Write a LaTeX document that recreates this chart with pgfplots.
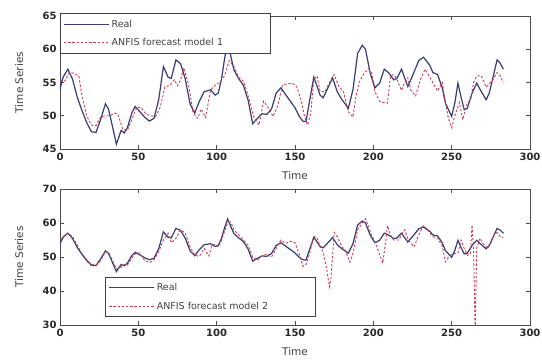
\documentclass[border=0pt]{standalone}
\usepackage{fontspec}
\setmainfont{DejaVu Sans}
\usepackage{pgfplots}
\pgfplotsset{compat=1.18}
\usepackage{pgfplotstable}

\definecolor{realc}{RGB}{55,60,115}
\definecolor{fc}{RGB}{205,60,85}

\pgfplotstableread{
t v
0 54.0
2 55.8
5 57.0
8 55.5
11 52.8
14 50.8
17 49.0
20 47.6
23 47.5
26 49.5
29 51.8
31 51.0
33 48.9
36 45.7
39 47.8
41 47.4
43 48.2
46 50.5
48 51.4
51 50.6
54 49.8
57 49.2
60 49.6
63 52.4
66 57.4
69 55.8
71 55.6
74 58.4
77 57.8
80 55.5
83 51.8
86 50.4
89 52.2
92 53.6
96 53.9
99 53.1
101 53.4
103 55.4
105 58.5
107 61.2
109 59.0
111 56.9
114 55.6
117 54.6
120 52.4
123 48.8
126 49.6
129 50.3
132 50.2
135 51.0
138 53.4
141 54.2
144 53.2
147 52.2
150 51.2
153 49.8
155 49.2
157 49.1
159 51.8
162 55.8
164 54.5
166 53.1
168 52.7
171 54.2
174 55.7
177 53.6
180 52.4
182 51.8
184 51.1
187 53.9
190 59.4
193 60.6
195 60.0
198 56.4
201 54.2
204 54.9
207 57.0
210 56.4
213 55.4
215 55.6
218 57.0
222 54.4
225 56.0
229 58.3
232 58.8
236 57.6
238 56.5
241 56.2
244 54.2
246 51.9
248 50.9
250 49.9
252 51.9
254 54.9
256 52.8
258 50.9
260 51.1
263 53.4
266 54.9
269 53.6
272 52.4
274 53.4
277 56.4
279 58.4
281 57.9
283 57.0
}\realdata

\pgfplotstableread{
t v
0 55.4
3 55.2
6 56.5
9 56.4
12 56.0
14 53.0
17 50.0
20 48.6
23 48.5
26 49.8
29 50.0
32 50.0
35 50.4
37 50.2
40 48.0
43 47.8
46 49.5
49 51.3
52 51.2
55 50.2
58 50.0
61 49.9
64 51.3
67 54.4
70 54.5
73 55.4
75 54.5
77 55.4
79 57.2
82 54.8
85 50.4
88 49.6
90 51.0
93 49.7
96 53.8
99 54.6
102 55.0
105 56.0
108 58.3
111 57.4
114 55.8
117 55.2
119 53.9
122 51.3
124 49.6
127 48.6
130 52.2
133 51.2
136 49.9
139 51.5
142 54.6
145 54.8
148 54.9
151 54.4
154 52.3
156 50.0
158 48.6
160 50.3
162 55.4
164 56.0
166 53.7
169 53.6
172 55.0
175 56.2
178 54.4
181 53.6
184 50.6
187 49.8
189 53.0
191 55.0
194 56.4
197 57.0
199 56.5
201 53.6
204 52.2
206 52.0
209 51.9
211 56.0
213 56.2
215 55.5
218 53.8
220 55.0
222 55.7
224 53.8
227 53.0
230 55.4
233 57.0
235 56.2
238 55.0
241 53.7
244 55.0
246 52.0
248 49.5
250 48.2
252 50.0
255 52.0
257 49.4
260 52.0
262 52.3
264 55.0
266 56.0
269 56.0
272 54.3
276 55.3
279 56.5
281 56.0
283 55.0
}\fonedata

\pgfplotstableread{
t v
0 55.0
2 56.0
5 57.0
8 56.0
11 53.5
14 51.0
17 49.2
20 47.8
23 47.6
26 49.0
29 51.5
31 51.4
33 49.5
36 46.5
39 47.0
41 47.8
43 47.6
46 49.8
48 51.0
51 51.2
54 49.0
57 48.3
60 49.2
63 51.5
66 55.0
69 57.0
71 54.2
74 55.5
77 58.0
80 57.0
83 53.0
86 50.5
89 50.2
92 52.5
95 50.3
97 53.5
99 53.8
101 53.0
103 54.8
105 57.5
107 60.0
109 60.3
111 58.0
114 56.5
117 55.0
120 53.5
123 50.0
126 49.0
129 50.4
132 50.8
135 50.0
138 52.5
141 55.0
144 54.0
147 54.6
150 54.2
153 50.5
155 47.2
157 47.8
159 50.5
162 56.0
164 55.8
166 53.0
168 51.5
170 47.0
172 41.2
173 44.0
175 57.2
177 56.0
180 53.0
182 52.0
185 48.5
187 51.0
190 58.0
193 60.0
195 61.2
197 59.0
199 56.2
201 54.6
203 52.0
206 48.2
208 55.0
209 59.2
211 56.5
213 55.0
216 55.0
218 56.5
220 58.0
222 55.5
224 54.0
226 53.0
229 56.5
232 59.3
235 57.8
238 56.0
241 55.5
244 53.2
246 48.6
248 50.0
250 50.8
252 51.0
254 51.2
256 55.0
258 52.5
260 50.5
262 51.0
263 59.4
264 52.0
265 28.0
266 52.5
268 55.5
270 54.0
273 52.5
275 54.0
277 56.5
279 57.2
281 56.0
283 55.6
}\ftwodata

\pgfplotsset{
  mystyle/.style={
    scale only axis, width=470pt,
    xmin=0, xmax=300, xtick={0,50,...,300},
    tick align=inside, xtick pos=both, ytick pos=both,
    major tick length=4pt,
    xticklabel={\bfseries\pgfmathprintnumber[assume math mode=true]{\tick}},
    yticklabel={\bfseries\pgfmathprintnumber[assume math mode=true]{\tick}},
    tick label style={font=\bfseries\fontsize{10}{11}\selectfont, text=black!85},
    axis line style={black!70, line width=0.9pt},
    every tick/.style={black!70, line width=0.8pt},
    xticklabel style={yshift=-1pt},
    every axis x label/.style={at={(axis description cs:0.5,0)}, anchor=north, yshift=-19pt, font=\fontsize{10.5}{11}\selectfont, text=black!75},
    every axis y label/.style={at={(axis description cs:-0.087,0.5)}, anchor=center, rotate=90, font=\fontsize{10.5}{11}\selectfont, text=black!75},
    legend image code/.code={\draw[##1] (0pt,0pt) -- (45pt,0pt);},
    legend cell align=left,
    legend style={draw=black!75, line width=0.9pt, fill=white, font=\fontsize{9.5}{11}\selectfont,
      inner xsep=3pt, inner ysep=5pt, row sep=8pt,
      nodes={text width=154pt, align=left, text=black!75, inner ysep=1pt}},
  },
  realst/.style={realc, line width=1.2pt},
  fst/.style={fc, line width=0.9pt, dash pattern=on 2.4pt off 1.8pt},
}

\begin{document}
\begin{tikzpicture}
\begin{axis}[mystyle, name=top, at={(0pt,176pt)}, anchor=south west, height=133pt,
  ymin=45, ymax=65, ytick={45,50,...,65},
  xlabel={Time}, ylabel={Time Series},
  legend style={at={(0,1.02)}, anchor=north west}]
\addplot[realst] table[x=t,y=v] {\realdata};
\addlegendentry{Real}
\addplot[fst] table[x=t,y=v] {\fonedata};
\addlegendentry{ANFIS forecast model 1}
\end{axis}
\begin{axis}[mystyle, name=bot, at={(0pt,0pt)}, anchor=south west, height=136pt,
  ymin=30, ymax=70, ytick={30,40,...,70},
  xlabel={Time}, ylabel={Time Series},
  legend style={at={(0.096,0.353)}, anchor=north west}]
\addplot[realst] table[x=t,y=v] {\realdata};
\addlegendentry{Real}
\addplot[fst] table[x=t,y=v] {\ftwodata};
\addlegendentry{ANFIS forecast model 2}
\end{axis}
\pgfresetboundingbox
\useasboundingbox (-60pt,-36pt) rectangle (482pt,325pt);
\end{tikzpicture}
\end{document}
